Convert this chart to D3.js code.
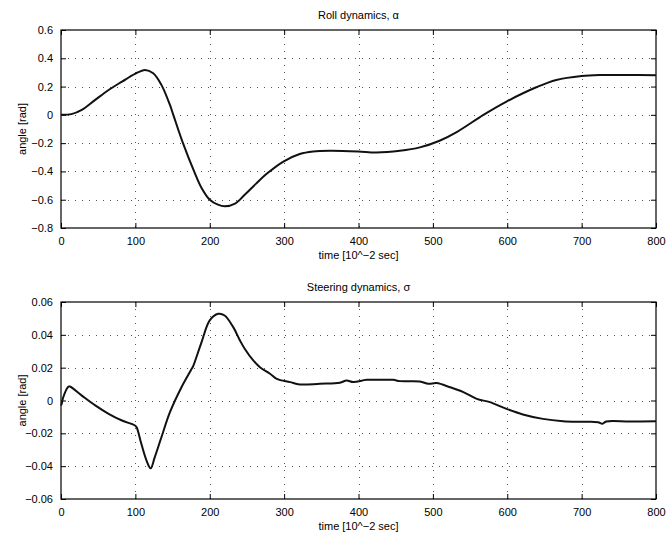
<!DOCTYPE html>
<html>
<head>
<meta charset="utf-8">
<script src="https://cdn.jsdelivr.net/npm/d3@7"></script>
<style>
  body { margin: 0; background: #fff; }
  svg { display: block; font-family: "Liberation Sans", Arial, sans-serif; }
</style>
</head>
<body>
<div id="chart"></div>
<script>
// roll angle alpha
const rollTime = [0, 14, 28, 46, 64, 82, 99.5, 113, 124, 135, 146.5, 151, 164, 179, 189,
  200, 211, 220, 234, 247, 262, 276.5, 299, 321, 339, 361.6, 399.6, 424, 455.6, 482.5,
  509, 532, 568, 599, 639, 666, 700, 725, 760, 800]
const rollAngle = [0, 0.005, 0.035, 0.106, 0.176, 0.235, 0.29, 0.318, 0.294, 0.212, 0.07, 0, -0.2, -0.4, -0.517,
  -0.6, -0.635, -0.647, -0.628, -0.565, -0.488, -0.417, -0.33, -0.277, -0.259, -0.254, -0.259, -0.266, -0.254, -0.23,
  -0.183, -0.122, 0, 0.094, 0.195, 0.247, 0.275, 0.282, 0.282, 0.28]

// steering angle sigma, bottom panel
const steerTime = [0, 1, 3, 10, 12, 28, 46, 64, 82, 99.5, 101.7, 108, 115, 120.5, 126,
  135, 146.5, 162, 175.7, 178, 189, 200, 211.4, 220, 231.6, 240.6, 247, 258.5, 267.5, 281,
  290, 308, 321, 348, 375, 384, 393, 411, 429, 446.6, 455.6, 482.5, 494, 505, 523,
  541, 559, 576.6, 599, 621, 648, 675, 700, 722, 728, 733, 765, 800]
const steerAngle = [-0.003, -0.002, 0.002, 0.0085, 0.0085, 0.003, -0.003, -0.0081, -0.0122, -0.0152, -0.0163, -0.0264, -0.0366, -0.0413, -0.0346,
  -0.0224, -0.0071, 0.0081, 0.0193, 0.0213, 0.0356, 0.0488, 0.0528, 0.0518, 0.0447, 0.0366, 0.0315, 0.0244, 0.0203, 0.0163,
  0.0132, 0.0112, 0.0098, 0.0102, 0.0108, 0.0122, 0.0112, 0.0126, 0.0126, 0.0126, 0.0118, 0.0116, 0.0102, 0.0106, 0.0081,
  0.0051, 0.001, -0.001, -0.0051, -0.0085, -0.0112, -0.0126, -0.013, -0.0132, -0.0142, -0.0128, -0.0128, -0.0126]

const timeTicks = [0, 100, 200, 300, 400, 500, 600, 700, 800]
const rollTicks = [-0.8, -0.6, -0.4, -0.2, 0, 0.2, 0.4, 0.6]
const steerTicks = [-0.06, -0.04, -0.02, 0, 0.02, 0.04, 0.06]

const W = 667, H = 538
const svg = d3.select('#chart').append('svg')
  .attr('width', W)
  .attr('height', H)

const fmt = d3.format('~f')

function drawPanel(opt) {
  const x = d3.scaleLinear().domain([0, 800]).range([61, 656])
  const y = d3.scaleLinear().domain(opt.yDomain).range([opt.bottom, opt.top])
  const g = svg.append('g')

  // dotted grid
  g.append('g').selectAll('line.gx')
    .data(timeTicks.slice(1, -1))
    .join('line')
      .attr('x1', d => Math.round(x(d)) + 0.5)
      .attr('x2', d => Math.round(x(d)) + 0.5)
      .attr('y1', opt.top)
      .attr('y2', opt.bottom)
      .attr('stroke', '#555')
      .attr('stroke-dasharray', '1,6')
  g.append('g').selectAll('line.gy')
    .data(opt.ticks.slice(1, -1))
    .join('line')
      .attr('y1', d => Math.round(y(d)) + 0.5)
      .attr('y2', d => Math.round(y(d)) + 0.5)
      .attr('x1', 61)
      .attr('x2', 656)
      .attr('stroke', '#555')
      .attr('stroke-dasharray', '1,6')

  // axes, ticks pointing inward like matlab
  const xb = g.append('g')
    .attr('transform', `translate(0,${opt.bottom})`)
    .call(d3.axisBottom(x).tickValues(timeTicks).tickSizeInner(-5).tickSizeOuter(0).tickPadding(9))
  const xt = g.append('g')
    .attr('transform', `translate(0,${opt.top})`)
    .call(d3.axisTop(x).tickValues(timeTicks).tickSizeInner(-5).tickSizeOuter(0).tickFormat(''))
  const yl = g.append('g')
    .attr('transform', 'translate(61,0)')
    .call(d3.axisLeft(y).tickValues(opt.ticks).tickSizeInner(-5).tickSizeOuter(0).tickPadding(8).tickFormat(fmt))
  const yr = g.append('g')
    .attr('transform', 'translate(656,0)')
    .call(d3.axisRight(y).tickValues(opt.ticks).tickSizeInner(-5).tickSizeOuter(0).tickFormat(''))

  for (const a of [xb, xt, yl, yr]) {
    a.select('.domain').remove()
    a.selectAll('text').attr('font-size', 11).attr('fill', '#000').attr('font-family', null)
    a.selectAll('line').attr('stroke', '#000')
  }

  g.append('rect')
    .attr('x', 61)
    .attr('y', opt.top)
    .attr('width', 656 - 61)
    .attr('height', opt.bottom - opt.top)
    .attr('fill', 'none')
    .attr('stroke', '#000')
    .attr('stroke-width', 1.2)

  const line = d3.line()
    .x((d, i) => x(opt.t[i]))
    .y(d => y(d))
    .curve(opt.curve)
  g.append('path')
    .datum(opt.v)
    .attr('d', line)
    .attr('fill', 'none')
    .attr('stroke', '#111')
    .attr('stroke-width', 2)
    .attr('stroke-linejoin', 'round')

  g.append('text')
    .text(opt.title)
    .attr('x', (61 + 656) / 2)
    .attr('y', opt.top - 11)
    .attr('text-anchor', 'middle')
    .attr('font-size', 11)
  g.append('text')
    .text('time [10^\u22122 sec]')
    .attr('x', (61 + 656) / 2)
    .attr('y', opt.bottom + 31)
    .attr('text-anchor', 'middle')
    .attr('font-size', 11)
  g.append('text')
    .text('angle [rad]')
    .attr('transform', `translate(26,${(opt.top + opt.bottom) / 2}) rotate(-90)`)
    .attr('text-anchor', 'middle')
    .attr('font-size', 11)
}

drawPanel({
  top: 30, bottom: 228,
  yDomain: [-0.8, 0.6], ticks: rollTicks,
  t: rollTime, v: rollAngle,
  curve: d3.curveCatmullRom.alpha(0.5),
  title: 'Roll dynamics, \u03b1'
})

drawPanel({
  top: 302, bottom: 499,
  yDomain: [-0.06, 0.06], ticks: steerTicks,
  t: steerTime, v: steerAngle,
  curve: d3.curveCatmullRom.alpha(0.5),
  title: 'Steering dynamics, \u03c3'
})
</script>
</body>
</html>
